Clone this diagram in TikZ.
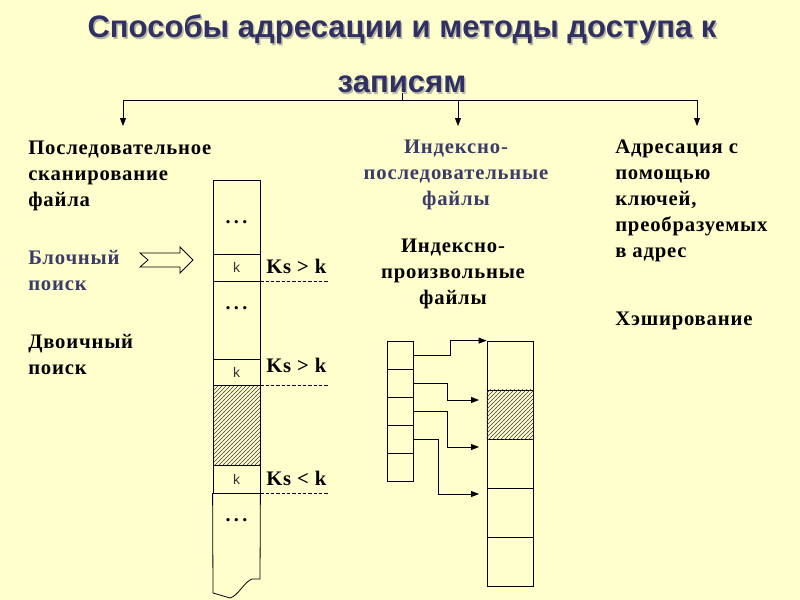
\documentclass[tikz,border=0pt]{standalone}
\usepackage{fontspec}
\setmainfont{Liberation Serif}
\setsansfont{Liberation Sans}
\newfontfamily\bodyfont[LetterSpace=4]{Liberation Serif}
\usepackage{tikz}
\usetikzlibrary{arrows.meta,patterns}
\definecolor{slidebg}{RGB}{255,255,206}
\definecolor{titleblue}{RGB}{48,48,100}
\definecolor{textblue}{RGB}{60,60,105}
\definecolor{shadowgray}{RGB}{185,185,165}

\begin{document}
\begin{tikzpicture}[x=0.75pt,y=-0.75pt,
  titletext/.style = {font=\sffamily\bfseries\fontsize{23.3}{41}\selectfont, align=center, inner sep=0},
  txt/.style = {font=\bodyfont\bfseries\fontsize{15.5}{19.5}\selectfont, align=left, inner sep=0, anchor=north west},
  ctxt/.style = {txt, align=center, anchor=north},
  cell/.style = {rectangle, draw, line width=0.6pt, inner sep=0, minimum width=35.25pt},
  icell/.style = {rectangle, draw, line width=0.6pt, inner sep=0, minimum width=19.5pt, minimum height=21pt},
  bcell/.style = {rectangle, draw, line width=0.6pt, inner sep=0, minimum width=34.5pt, minimum height=36.75pt},
  hatch/.style = {pattern=north east lines, pattern color=black!75},
  keytext/.style = {font=\sffamily\fontsize{10.5}{12}\selectfont, text=black!80},
  dots/.style = {font=\bfseries\fontsize{15}{15}\selectfont, inner sep=0},
  arr/.style = {-{Triangle[length=6pt,width=4.5pt]}, line width=0.6pt},
  dashline/.style = {dashed, dash pattern=on 2.5pt off 1.5pt, line width=0.5pt}
]
  \fill[slidebg] (0,0) rectangle (800,600);
  \useasboundingbox (0,0) rectangle (800,600);

  % title and branches
  \node[titletext, text=shadowgray] (titleshadow) at (403.5,55.5) {Способы адресации и методы доступа к\\записям};
  \node[titletext, text=titleblue] (title) at (402,54) {Способы адресации и методы доступа к\\записям};
  \coordinate (fork) at (402,100);
  \coordinate (e1) at (123,126);
  \coordinate (e2) at (458,126);
  \coordinate (e3) at (697,126);
  \draw[line width=0.6pt] (title.south) -- (fork);
  \draw[arr] (fork) -| (e1);
  \draw[arr] (fork) -| (e2);
  \draw[arr] (fork) -| (e3);

  % left column
  \node[txt] (seq) at (28,141) {Последовательное\\сканирование\\файла};
  \node[txt, text=textblue] (block) at (28,250) {Блочный\\поиск};
  \node[txt] (binary) at (28,334) {Двоичный\\поиск};
  \draw[line width=0.6pt] (140,253) -- (180,253) -- (180,247) -- (193,260) -- (180,273)
    -- (180,267) -- (140,267) -- (148,260) -- cycle;

  % scanned file
  \node[cell, minimum height=55.5pt]  (c1) at (236.5,217) {};
  \node[cell, minimum height=20.25pt] (k1) at (236.5,267.5) {};
  \node[cell, minimum height=58.5pt]  (c2) at (236.5,320) {};
  \node[cell, minimum height=19.5pt]  (k2) at (236.5,372) {};
  \node[cell, hatch, minimum height=60pt] (h1) at (236.5,425) {};
  \node[cell, minimum height=21pt]    (k3) at (236.5,479) {};
  \foreach \k in {k1,k2,k3}
    \node[keytext] at (\k) {k};
  \draw[line width=0.6pt] (k3.south west) -- (k3.south east) -- (260,579) -- (252,579)
    .. controls (244,582) and (238,596) .. (230,598) -- (213,593) -- cycle;
  \draw[line width=1.2pt] (k3.south west) -- (k3.south east);
  \node[dots] at (236.5,222) {.\,.\,.};
  \node[dots] at (236.5,308) {.\,.\,.};
  \node[dots] at (236.5,520) {.\,.\,.};

  \node[txt, anchor=west] (cmp1) at (266,266) {Ks > k};
  \node[txt, anchor=west] (cmp2) at (266,365) {Ks > k};
  \node[txt, anchor=west] (cmp3) at (266,478) {Ks < k};
  \draw[dashline] (k1.south east) -- ++(68,0);
  \draw[dashline] (k2.south east) -- ++(68,0);
  \draw[dashline] (k3.south east) -- ++(68,0);

  % middle column
  \node[ctxt, text=textblue] (idxseq) at (456,140) {Индексно-\\последовательные\\файлы};
  \node[ctxt] (idxrnd) at (453,239) {Индексно-\\произвольные\\файлы};
  \foreach \i in {1,...,5}
    \node[icell] (i\i) at (400,327+28*\i) {};
  \foreach \i in {1,...,5}
    \node[bcell] (b\i) at (510,316.5+49*\i) {};
  \path[hatch] (b2.south west) rectangle (b2.north east);
  \coordinate (t2) at (479,400);
  \coordinate (t3) at (479,447);
  \coordinate (t4) at (479,494);
  \draw[arr] (i1.east) -- ++(37,0) |- (b1.north west);
  \draw[arr] (i2.east) -- ++(34,0) |- (t2);
  \draw[arr] (i3.east) -- ++(34,0) |- (t3);
  \draw[arr] (i4.east) -- ++(25,0) |- (t4);

  % right column
  \node[txt] (keyaddr) at (615,140) {Адресация с\\помощью\\ключей,\\преобразуемых\\в адрес};
  \node[txt] (hashing) at (615,312) {Хэширование};
\end{tikzpicture}
\end{document}
